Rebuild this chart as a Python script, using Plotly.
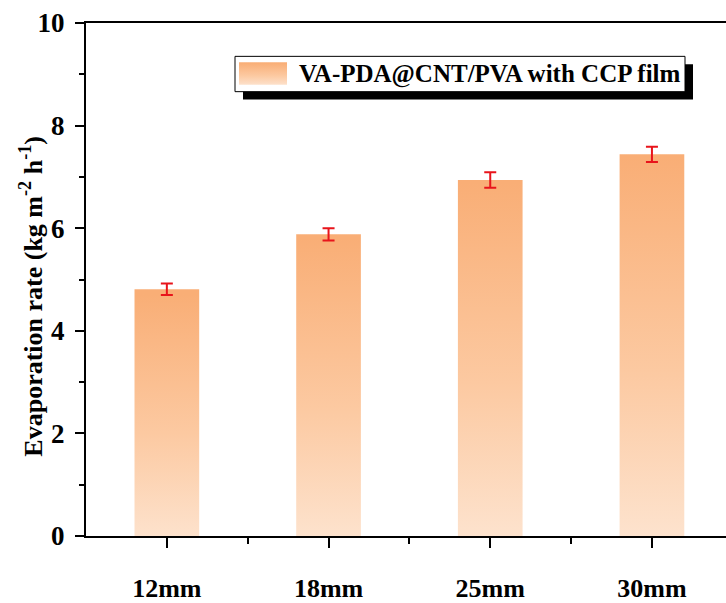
import plotly.graph_objects as go

# Evaporation rate of VA-PDA@CNT/PVA with CCP film for different sizes
categories = ["12mm", "18mm", "25mm", "30mm"]
rates = [4.81, 5.88, 6.94, 7.44]
errors = [0.11, 0.12, 0.15, 0.15]
series_name = "VA-PDA@CNT/PVA with CCP film"
y_ticks = [0, 2, 4, 6, 8, 10]

W, H = 726, 603
ML, MR, MT, MB = 86, 0, 23, 57
X_RANGE = [-0.5, 3.458]
Y_RANGE = [0, 10]
BAR_W = 0.40

FONT = "Liberation Serif"
GRAD = [[0.0, "#FDE4D0"], [0.45, "#FCC9A1"], [1.0, "#F9AE76"]]
ERR_COLOR = "#E8141B"

pw, ph = W - ML - MR, H - MT - MB


def px_to_x(px):
    return X_RANGE[0] + (px - ML) / pw * (X_RANGE[1] - X_RANGE[0])


def px_to_y(py):
    return Y_RANGE[0] + (H - MB - py) / ph * (Y_RANGE[1] - Y_RANGE[0])


fig = go.Figure()

# bars with a vertical gradient fill
for i, (cat, v) in enumerate(zip(categories, rates)):
    x0, x1 = i - BAR_W / 2, i + BAR_W / 2
    fig.add_trace(go.Scatter(
        x=[x0, x1, x1, x0, x0], y=[0, 0, v, v, 0],
        mode="lines", fill="toself",
        fillgradient=dict(type="vertical", colorscale=GRAD, start=0, stop=v),
        line=dict(width=0), hoverinfo="skip", showlegend=False,
    ))

# error bars
fig.add_trace(go.Scatter(
    x=list(range(len(categories))), y=rates, mode="markers",
    marker=dict(size=1, opacity=0),
    error_y=dict(type="data", array=errors, visible=True,
                 color=ERR_COLOR, thickness=2, width=6),
    hoverinfo="skip", showlegend=False,
))

# legend: shadow, box, gradient key and label
lx0, lx1, ly0, ly1 = 235, 685, 57, 93
SH = 8
fig.add_shape(type="rect", xref="paper", yref="paper",
              x0=(lx0 + SH - ML) / pw, x1=(lx1 + SH - ML) / pw,
              y0=(H - MB - (ly1 + SH)) / ph, y1=(H - MB - (ly0 + SH)) / ph,
              fillcolor="black", line=dict(width=0), layer="below")
fig.add_shape(type="rect", xref="paper", yref="paper",
              x0=(lx0 - ML) / pw, x1=(lx1 - ML) / pw,
              y0=(H - MB - ly1) / ph, y1=(H - MB - ly0) / ph,
              fillcolor="white", line=dict(color="black", width=1), layer="below")
kx0, kx1 = px_to_x(239), px_to_x(287)
ky0, ky1 = px_to_y(86), px_to_y(63)
fig.add_trace(go.Scatter(
    x=[kx0, kx1, kx1, kx0, kx0], y=[ky0, ky0, ky1, ky1, ky0],
    mode="lines", fill="toself",
    fillgradient=dict(type="vertical", colorscale=GRAD, start=ky0, stop=ky1),
    line=dict(width=0), hoverinfo="skip", showlegend=False,
))
fig.add_annotation(
    xref="paper", yref="paper", x=(297 - ML) / pw, y=(H - MB - 75) / ph,
    xanchor="left", yanchor="middle", showarrow=False, text=series_name,
    font=dict(family=FONT, size=25, color="black", weight="bold"),
)

# y-axis title
fig.add_annotation(
    xref="paper", yref="paper", x=0, xshift=-54, y=(H - MB - 302) / ph,
    xanchor="center", yanchor="middle", showarrow=False, textangle=-90,
    text="Evaporation rate (kg m<sup>-2</sup> h<sup>-1</sup>)",
    font=dict(family=FONT, size=26, color="black", weight="bold"),
)

fig.update_layout(
    width=W, height=H,
    margin=dict(l=ML, r=MR, t=MT, b=MB, pad=0),
    plot_bgcolor="white", paper_bgcolor="white",
    font=dict(family=FONT, color="black"),
    xaxis=dict(
        range=X_RANGE, tickvals=list(range(len(categories))), ticktext=categories,
        showline=True, linecolor="black", linewidth=2, mirror=True,
        ticks="outside", ticklen=10, tickwidth=2, tickcolor="black",
        minor=dict(tickvals=[0.5, 1.5, 2.5, 3.5], ticks="outside",
                   ticklen=6, tickwidth=2, tickcolor="black"),
        tickfont=dict(family=FONT, size=26, color="black", weight="bold"),
        ticklabelstandoff=18, showgrid=False, zeroline=False, fixedrange=True,
    ),
    yaxis=dict(
        range=Y_RANGE, tickvals=y_ticks,
        showline=True, linecolor="black", linewidth=2, mirror=False,
        ticks="outside", ticklen=9, tickwidth=2, tickcolor="black",
        minor=dict(dtick=1, ticks="outside", ticklen=5, tickwidth=2,
                   tickcolor="black"),
        tickfont=dict(family=FONT, size=27, color="black", weight="bold"),
        ticklabelstandoff=5,
        showgrid=False, zeroline=False, fixedrange=True,
    ),
    showlegend=False,
)

fig.write_html("out.html")
